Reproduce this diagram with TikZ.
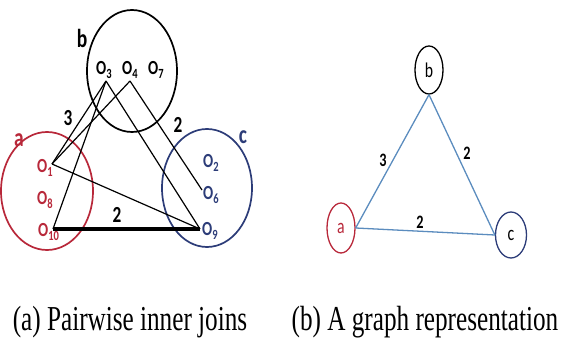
\documentclass[tikz,border=0pt]{standalone}
\usepackage{fontspec}
\setmainfont{Carlito}
\newfontfamily\capfont{Liberation Serif}
\usetikzlibrary{shapes.geometric}
\definecolor{setred}{HTML}{B8283A}
\definecolor{setblue}{HTML}{2C3C78}
\definecolor{edgeblue}{HTML}{5B8CBE}
\newcommand{\cx}[1]{\scalebox{0.75}[1]{#1}}
\newcommand{\capx}[1]{\scalebox{0.72}[1]{#1}}
\tikzset{
  setshape/.style={draw, ellipse, line width=1.7pt, inner sep=0pt},
  obj/.style={inner sep=0pt, anchor=base west, font=\fontsize{20}{20}\selectfont\bfseries},
  setlabel/.style={inner sep=0pt, font=\fontsize{26}{26}\selectfont\bfseries},
  wlabel/.style={inner sep=0pt, font=\fontsize{23}{23}\selectfont\bfseries},
  glabel/.style={inner sep=0pt, font=\fontsize{19}{19}\selectfont\bfseries},
  joinline/.style={line width=1.2pt},
  gnode/.style={draw, ellipse, line width=1.3pt, minimum width=28pt, minimum height=48pt, inner sep=0pt, font=\fontsize{21}{21}\selectfont},
  gedge/.style={draw=edgeblue, line width=1.3pt},
  captext/.style={inner sep=0pt, font=\capfont\fontsize{35}{35}\selectfont}
}
\begin{document}
\begin{tikzpicture}[x=1pt,y=-1pt]
\useasboundingbox (0,0) rectangle (563,339);
% sets
\node[setshape, minimum width=90pt, minimum height=122pt] (B) at (132,71) {};
\node[setshape, setblue, minimum width=90pt, minimum height=118pt] (C) at (207,188) {};
\node[setshape, setred, minimum width=92pt, minimum height=118pt] (A) at (47,191) {};
\node[setlabel] (lb) at (82,38) {\cx{b}};
\node[setlabel, setred] (la) at (19,140) {\cx{a}};
\node[setlabel, setblue] (lc) at (243,137) {\cx{c}};
% objects
\node[obj] (o3) at (96,75) {\cx{O\textsubscript{3}}};
\node[obj] (o4) at (122,75) {\cx{O\textsubscript{4}}};
\node[obj] (o7) at (148,75) {\cx{O\textsubscript{7}}};
\node[obj, setred] (o1) at (37,173) {\cx{O\textsubscript{1}}};
\node[obj, setred] (o8) at (37,205) {\cx{O\textsubscript{8}}};
\node[obj, setred] (o10) at (38,237) {\cx{O\textsubscript{10}}};
\node[obj, setblue] (o2) at (203,168) {\cx{O\textsubscript{2}}};
\node[obj, setblue] (o6) at (203,200) {\cx{O\textsubscript{6}}};
\node[obj, setblue] (o9) at (202,236) {\cx{O\textsubscript{9}}};
% join points
\coordinate (p3) at (106,81);
\coordinate (p4) at (130,81);
\coordinate (p1) at (52,164);
\coordinate (p10) at (53,229);
\coordinate (p9) at (200,229);
\coordinate (p6) at (202,190);
\draw[joinline] (p1) -- (p3);
\draw[joinline] (p1) -- (p4);
\draw[joinline] (p10) -- (p3);
\draw[joinline] (p3) -- (p9);
\draw[joinline] (p4) -- (p6);
\draw[joinline] (p1) -- (p9);
\draw[line width=4pt] (p10) -- (p9);
\node[wlabel] (w1) at (68,118) {\cx{3}};
\node[wlabel] (w2) at (178,125) {\cx{2}};
\node[wlabel] (w3) at (117,215) {\cx{2}};
% graph
\node[gnode] (gb) at (429,70) {\cx{b}};
\node[gnode, draw=setred, text=setred, minimum height=50pt] (ga) at (341,228) {\cx{a}};
\node[gnode, draw=setblue, text=black, minimum width=31pt, minimum height=46pt] (gc) at (511,235) {\cx{c}};
\draw[gedge] (ga.east) -- (gb.south);
\draw[gedge] (gb.south) -- (gc.west);
\draw[gedge] (ga.east) -- (gc.west);
\node[glabel] (g1) at (383,160) {\cx{3}};
\node[glabel] (g2) at (467,153) {\cx{2}};
\node[glabel] (g3) at (420,222) {\cx{2}};
% captions
\node[captext, anchor=base] (ca) at (130,331) {\capx{(a) Pairwise inner joins}};
\node[captext, anchor=base] (cb) at (425,331) {\capx{(b) A graph representation}};
\end{tikzpicture}
\end{document}
